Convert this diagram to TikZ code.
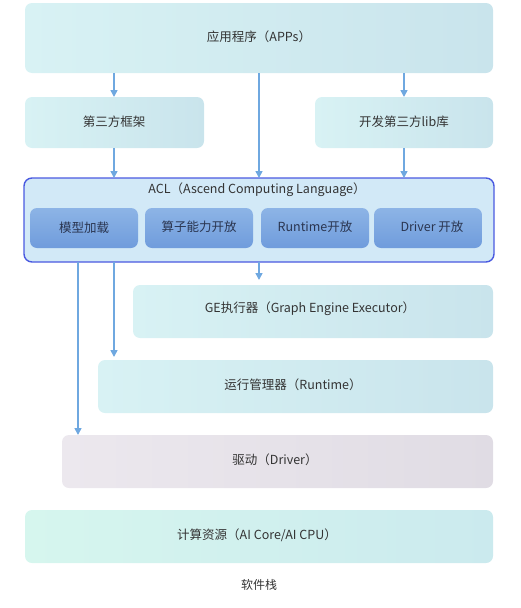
\documentclass[tikz,border=0pt]{standalone}
\usepackage{fontspec}
\setmainfont{Noto Sans CJK SC}
\usetikzlibrary{arrows.meta,shadings}
\definecolor{arr}{HTML}{6FA8E0}
\definecolor{boxa}{HTML}{D8F2F4}
\definecolor{boxb}{HTML}{C9E4EC}
\definecolor{aclfill}{HTML}{D2E9F7}
\definecolor{aclline}{HTML}{4A5AE0}
\definecolor{suba}{HTML}{8DB4E6}
\definecolor{subb}{HTML}{6F9CDC}
\definecolor{txt}{HTML}{333333}
\definecolor{subtxt}{HTML}{2A3550}
\definecolor{drva}{HTML}{ECE8EE}
\definecolor{drvb}{HTML}{E0DCE4}
\definecolor{cpa}{HTML}{D6F6EE}
\definecolor{cpb}{HTML}{CBEAEE}
\tikzset{
  layer/.style={rounded corners=7pt, left color=boxa, right color=boxb, draw=none},
  subbox/.style={rounded corners=7pt, top color=suba, bottom color=subb, draw=none},
  lbl/.style={text=txt, font=\fontsize{12.5}{15}\selectfont},
  sublbl/.style={text=subtxt, font=\fontsize{12.5}{15}\selectfont},
  flow/.style={draw=arr, line width=1.6pt, -{Triangle[width=7pt,length=7pt]}}
}
\begin{document}
\begin{tikzpicture}[x=1pt,y=-1pt]
\useasboundingbox (0,0) rectangle (521,608);
% layers
\path[layer] (25,3) rectangle (493,73);
\node[lbl] (apps) at (259,37) {应用程序（APPs）};
\coordinate (appsS) at (259,73);
\path[layer] (25,97) rectangle (204,148);
\node[lbl] (fw) at (114,122) {第三方框架};
\path[layer] (315,97) rectangle (493,148);
\node[lbl] (lib) at (404,122) {开发第三方lib库};
% ACL
\draw[aclline, line width=1.4pt, rounded corners=8pt, fill=aclfill] (24,178) rectangle (494,262);
\node[lbl] (acl) at (257,190) {ACL（Ascend Computing Language）};
\path[subbox] (30,208) rectangle (138,248);
\node[sublbl] (s1) at (84,228) {模型加载};
\path[subbox] (145,208) rectangle (253,248);
\node[sublbl] (s2) at (199,227) {算子能力开放};
\path[subbox] (261,208) rectangle (369,248);
\node[sublbl] (s3) at (315,227) {Runtime开放};
\path[subbox] (374,208) rectangle (482,248);
\node[sublbl] (s4) at (432,227) {Driver 开放};
% GE
\path[layer] (133,285) rectangle (493,338);
\node[lbl] (ge) at (310,309) {GE执行器（Graph Engine Executor）};
% Runtime
\path[layer] (98,360) rectangle (493,413);
\node[lbl] (rt) at (293,385) {运行管理器（Runtime）};
% Driver
\path[rounded corners=7pt, left color=drva, right color=drvb] (62,435) rectangle (493,488);
\node[lbl] (drv) at (275,460) {驱动（Driver）};
% Compute
\path[rounded corners=7pt, left color=cpa, right color=cpb] (25,510) rectangle (493,563);
\node[lbl] (cpu) at (257,535) {计算资源（AI Core/AI CPU）};
\node[text=txt,font=\fontsize{12}{14}\selectfont] (cap) at (259,585) {软件栈};
% coordinates for connectors
\coordinate (a1) at (114,73); \coordinate (a1e) at (114,97);
\coordinate (a2) at (404,73); \coordinate (a2e) at (404,97);
\coordinate (a3e) at (259,178);
\coordinate (b1) at (114,148); \coordinate (b1e) at (114,178);
\coordinate (b2) at (404,148); \coordinate (b2e) at (404,178);
\coordinate (c1) at (259,262); \coordinate (c1e) at (259,280);
\coordinate (d1) at (114,262); \coordinate (d1e) at (114,357);
\coordinate (e1) at (78,262); \coordinate (e1e) at (78,435);
\draw[flow] (a1) -- (a1e);
\draw[flow] (a2) -- (a2e);
\draw[flow] (appsS) -- (a3e);
\draw[flow] (b1) -- (b1e);
\draw[flow] (b2) -- (b2e);
\draw[flow] (c1) -- (c1e);
\draw[flow] (d1) -- (d1e);
\draw[flow] (e1) -- (e1e);
\end{tikzpicture}
\end{document}
